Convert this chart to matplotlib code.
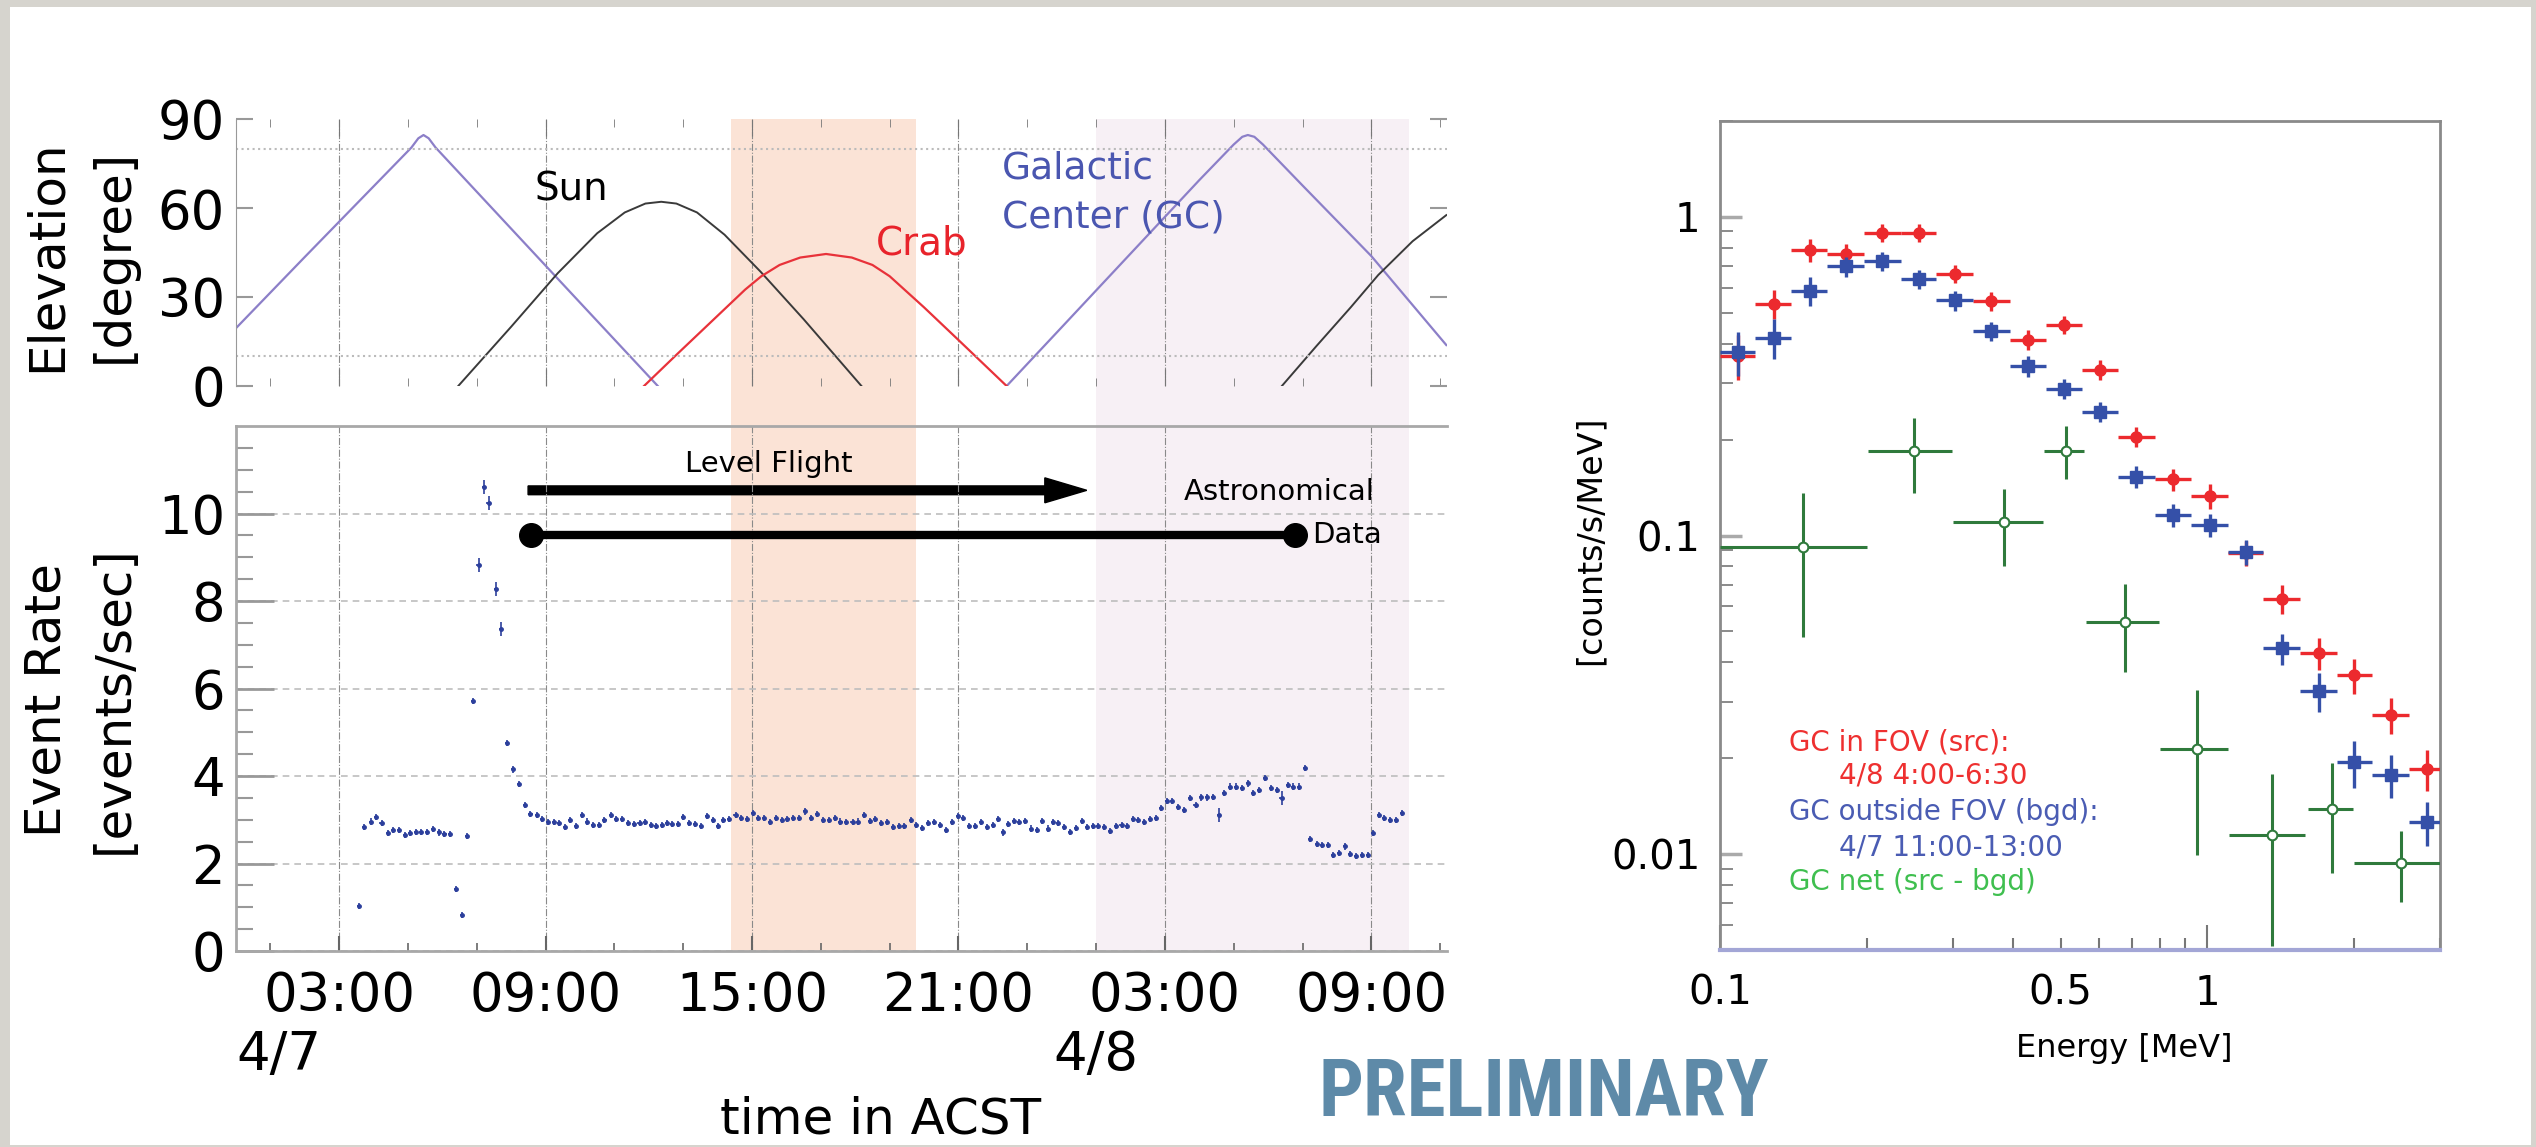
import matplotlib
matplotlib.use("Agg")
import matplotlib.pyplot as plt
from matplotlib import transforms, font_manager
from matplotlib.font_manager import FontProperties
from matplotlib.patches import Rectangle
from matplotlib.ticker import LogLocator, NullFormatter

# ---------------- data ----------------
# elevation arcs, hours since 4/7 00:00 ACST
gc_hours_1 = [0.0, 2.0, 4.0, 5.1, 5.3, 5.45, 5.6, 5.8, 8.0, 10.0, 12.26]
gc_elev_1 = [19.5, 43.5, 67.3, 80.4, 83.5, 84.6, 83.5, 80.4, 53.0, 28.1, 0.0]
gc_hours_2 = [22.40, 24.0, 26.0, 28.0, 29.0, 29.25, 29.41, 29.6, 29.85, 31.0, 33.0, 35.18]
gc_elev_2 = [0.0, 19.8, 44.6, 69.4, 81.4, 84.0, 84.6, 84.0, 81.4, 67.6, 43.8, 13.8]
sun_hours_1 = [6.46, 8.0, 9.35, 10.5, 11.3, 11.9, 12.36, 12.8, 13.4, 14.2, 15.25, 16.5, 18.18]
sun_elev_1 = [0.0, 20.0, 38.0, 51.5, 58.5, 61.5, 62.1, 61.5, 58.5, 51.0, 38.5, 22.5, 0.0]
sun_hours_2 = [30.40, 31.4, 32.4, 33.2, 34.2, 35.18]
sun_elev_2 = [0.0, 13.4, 26.5, 37.4, 48.8, 57.6]
crab_hours = [11.86, 12.8, 13.8, 14.8, 15.27, 15.8, 16.4, 17.15, 17.9, 18.5, 19.0, 20.0, 21.0, 22.40]
crab_elev = [0.0, 10.5, 21.5, 32.5, 37.0, 40.8, 43.3, 44.5, 43.3, 40.8, 37.0, 26.5, 15.5, 0.0]

bands = [(14.39, 19.77), (24.99, 34.09)]

# event rate, 10 min bins
rate_hours = [
    3.58, 3.73, 3.92, 4.07, 4.23, 4.41, 4.56, 4.74, 4.90, 5.05,
    5.22, 5.38, 5.56, 5.73, 5.89, 6.06, 6.23, 6.39, 6.57, 6.71,
    6.90, 7.87, 8.06, 8.23, 8.40, 8.56, 8.74, 8.90, 9.08, 9.24,
    9.39, 9.56, 9.72, 9.88, 10.05, 10.21, 10.38, 10.55, 10.71, 10.89,
    11.05, 11.22, 11.39, 11.56, 11.73, 11.90, 12.06, 12.21,
    12.39, 12.53, 12.68, 12.86, 13.00, 13.17, 13.34, 13.51, 13.68, 13.86,
    14.00, 14.17, 14.34, 14.52, 14.69, 14.85, 15.03, 15.18, 15.35, 15.52,
    15.69, 15.86, 16.03, 16.20, 16.37, 16.55, 16.71, 16.89, 17.05, 17.23,
    17.40, 17.57, 17.74, 17.92, 18.08, 18.26, 18.42, 18.58, 18.75, 18.92,
    19.09, 19.27, 19.43, 19.61, 19.77, 19.94, 20.12, 20.29, 20.46, 20.64,
    20.80, 20.98, 21.14, 21.31, 21.49, 21.65, 21.83, 22.00, 22.15, 22.29,
    22.45, 22.61, 22.76, 22.94, 23.10, 23.27, 23.44, 23.61,
    23.74, 23.90, 24.08, 24.24, 24.42, 24.59, 24.73, 24.90, 25.06, 25.24,
    25.41, 25.57, 25.74, 25.91, 26.07, 26.23, 26.39, 26.56, 26.73, 26.89,
    27.05, 27.21, 27.38, 27.55, 27.72, 27.89, 28.05, 28.22, 28.40, 28.73,
    28.90, 29.06, 29.24, 29.41, 29.57, 29.74, 29.91, 30.08, 30.25, 30.57,
    30.73, 30.91, 31.07, 31.23, 31.41, 31.57, 31.73, 31.89, 32.06, 32.23,
    32.39, 32.56, 32.73, 32.90, 33.05, 33.22, 33.38, 33.55, 33.72, 33.89]
rate_values = [
    1.02, 2.83, 2.96, 3.06, 2.92, 2.70, 2.76, 2.76, 2.66, 2.70,
    2.73, 2.73, 2.73, 2.79, 2.71, 2.67, 2.67, 1.42, 0.83, 2.62,
    5.71, 4.76, 4.15, 3.81, 3.34, 3.14, 3.11, 3.02, 2.94, 2.94,
    2.92, 2.83, 3.00, 2.85, 3.11, 2.96, 2.89, 2.89, 2.99, 3.11,
    3.02, 3.02, 2.92, 2.90, 2.92, 2.95, 2.89, 2.85,
    2.89, 2.92, 2.90, 2.90, 3.06, 2.92, 2.90, 2.85, 3.08, 3.00,
    2.85, 3.00, 3.02, 3.11, 3.04, 3.02, 3.15, 3.04, 3.04, 2.95,
    3.04, 3.00, 3.02, 3.04, 3.04, 3.19, 3.05, 3.13, 3.00, 3.00,
    3.05, 2.96, 2.95, 2.95, 2.96, 3.11, 2.98, 3.02, 2.92, 2.94,
    2.83, 2.85, 2.86, 3.00, 2.89, 2.81, 2.92, 2.95, 2.89, 2.77,
    2.95, 3.08, 3.05, 2.86, 2.86, 2.94, 2.83, 2.89, 3.02, 2.71,
    2.90, 2.98, 2.95, 2.98, 2.80, 2.77, 2.98, 2.80,
    2.95, 2.92, 2.83, 2.73, 2.81, 2.98, 2.83, 2.85, 2.85, 2.83,
    2.75, 2.86, 2.89, 2.85, 3.02, 3.00, 2.95, 3.02, 3.04, 3.27,
    3.43, 3.42, 3.30, 3.23, 3.49, 3.34, 3.51, 3.51, 3.53, 3.61,
    3.76, 3.76, 3.72, 3.83, 3.61, 3.68, 3.95, 3.73, 3.68, 3.80,
    3.76, 3.76, 4.19, 2.57, 2.45, 2.42, 2.42, 2.20, 2.24, 2.39,
    2.22, 2.17, 2.20, 2.20, 2.70, 3.11, 3.04, 3.00, 3.00, 3.15]
# points with larger errors
noisy_hours = [7.05, 7.21, 7.34, 7.55, 7.71, 28.58, 30.39]
noisy_values = [8.82, 10.60, 10.24, 8.27, 7.35, 3.11, 3.49]

time_ticks = [3, 9, 15, 21, 27, 33]
time_labels = ["03:00", "09:00", "15:00", "21:00", "03:00", "09:00"]
time_minor = [1, 5, 7, 11, 13, 17, 19, 23, 25, 29, 31, 35]

# spectra [counts/s/MeV]
energy = [0.109, 0.129, 0.153, 0.181, 0.215, 0.256, 0.303, 0.360, 0.428, 0.508,
          0.603, 0.715, 0.849, 1.01, 1.20, 1.42, 1.69, 2.00, 2.38, 2.82]
energy_edges = [0.100, 0.118, 0.140, 0.166, 0.197, 0.235, 0.278, 0.330, 0.393, 0.466, 0.553,
                0.656, 0.779, 0.925, 1.10, 1.30, 1.55, 1.84, 2.18, 2.59, 3.00]
src_rate = [0.367, 0.533, 0.788, 0.765, 0.892, 0.892, 0.663, 0.544, 0.412, 0.459,
            0.331, 0.204, 0.150, 0.133, 0.0884, 0.0634, 0.0428, 0.0364, 0.0273, 0.0185]
src_err = [0.06, 0.055, 0.065, 0.06, 0.06, 0.06, 0.045, 0.038, 0.03, 0.03,
           0.024, 0.015, 0.012, 0.012, 0.008, 0.0065, 0.005, 0.0045, 0.0035, 0.0027]
bgd_rate = [0.376, 0.417, 0.586, 0.699, 0.726, 0.638, 0.547, 0.439, 0.340, 0.289,
            0.245, 0.153, 0.116, 0.108, 0.0889, 0.0442, 0.0325, 0.0194, 0.0177, 0.0126]
bgd_err = [0.06, 0.06, 0.06, 0.05, 0.05, 0.045, 0.04, 0.03, 0.025, 0.02,
           0.018, 0.012, 0.01, 0.009, 0.008, 0.005, 0.0045, 0.0033, 0.0027, 0.002]
net_energy = [0.148, 0.250, 0.382, 0.512, 0.679, 0.953, 1.355, 1.80, 2.49]
net_e_lo = [0.100, 0.201, 0.301, 0.461, 0.563, 0.800, 1.107, 1.606, 2.00]
net_e_hi = [0.200, 0.299, 0.459, 0.559, 0.797, 1.10, 1.587, 1.99, 3.00]
net_rate = [0.0918, 0.184, 0.110, 0.184, 0.0537, 0.0213, 0.0115, 0.0139, 0.0094]
net_rate_lo = [0.048, 0.136, 0.0801, 0.150, 0.0372, 0.00993, 0.00516, 0.00870, 0.00707]
net_rate_hi = [0.136, 0.233, 0.140, 0.220, 0.0703, 0.0327, 0.0179, 0.0193, 0.0118]

# ---------------- figure ----------------
plt.rcParams['font.family'] = 'DejaVu Sans'
W, H = 2536, 1147
fig = plt.figure(figsize=(W / 100, H / 100), dpi=100, facecolor='#d6d4ce')


def fx(px):
    return px / W


def fy(py):
    return 1 - py / H


# white slide
fig.patches.append(Rectangle((fx(10), fy(1145)), fx(2531) - fx(10), fy(7) - fy(1145),
                             transform=fig.transFigure, facecolor='white',
                             edgecolor='none', zorder=-10))

ax_el = fig.add_axes([fx(236), fy(386), fx(1447) - fx(236), fy(119) - fy(386)])
ax_rt = fig.add_axes([fx(236), fy(951), fx(1447) - fx(236), fy(426) - fy(951)])
ax_sp = fig.add_axes([fx(1720), fy(950), fx(2440) - fx(1720), fy(121) - fy(950)])
for ax in (ax_el, ax_rt, ax_sp):
    ax.set_facecolor('none')

# shaded time windows across both time panels
blend = transforms.blended_transform_factory(ax_rt.transData, fig.transFigure)
for (h0, h1), col in zip(bands, ['#fbe3d6', '#f7f0f5']):
    fig.patches.append(Rectangle((h0, fy(951)), h1 - h0, fy(119) - fy(951), transform=blend,
                                 facecolor=col, edgecolor='none', zorder=-5))

# ---- elevation panel ----
gc_col, sun_col, crab_col = '#8c7fc8', '#3a3a3a', '#e8323a'
ax_el.plot(gc_hours_1, gc_elev_1, color=gc_col, lw=1.6)
ax_el.plot(gc_hours_2, gc_elev_2, color=gc_col, lw=1.6)
ax_el.plot(sun_hours_1, sun_elev_1, color=sun_col, lw=1.4)
ax_el.plot(sun_hours_2, sun_elev_2, color=sun_col, lw=1.4)
ax_el.plot(crab_hours, crab_elev, color=crab_col, lw=1.6)
ax_el.set_xlim(0, 35.2)
ax_el.set_ylim(0, 90)
ax_el.set_yticks([0, 30, 60, 90])
ax_el.set_xticks(time_ticks)
ax_el.set_xticks(time_minor, minor=True)
ax_el.tick_params(axis='y', direction='in', length=12, width=1.5, color='#999999',
                  labelsize=38, pad=8, right=True)
ax_el.tick_params(axis='x', which='both', direction='in', top=True, bottom=True,
                  labelbottom=False, color='#777777')
ax_el.tick_params(axis='x', which='major', length=12)
ax_el.tick_params(axis='x', which='minor', length=6)
ax_el.grid(axis='x', which='major', color='#8a8a8a', ls='-.', lw=0.8)
ax_el.axhline(80, color='#bbbbbb', ls=':', lw=1.5)
ax_el.axhline(10, color='#bbbbbb', ls=':', lw=1.5)
for s in ('top', 'bottom', 'right'):
    ax_el.spines[s].set_visible(False)
ax_el.spines['left'].set_color('#999999')
ax_el.text(9.74, 66.4, 'Sun', color='black', fontsize=28, ha='center', va='center')
ax_el.text(19.92, 48.2, 'Crab', color='#e8232b', fontsize=28, ha='center', va='center')
ax_el.text(22.27, 65.0, 'Galactic\nCenter (GC)', color='#4a56b0', fontsize=27,
           ha='left', va='center', linespacing=1.45)

# ---- event rate panel ----
rate_col = '#2c3f9c'
ax_rt.errorbar(rate_hours, rate_values, yerr=0.07, xerr=0.06, fmt='o', ms=2.5,
               color=rate_col, elinewidth=1.2, capsize=0)
ax_rt.errorbar(noisy_hours, noisy_values, yerr=0.16, xerr=0.06, fmt='o', ms=2.5,
               color=rate_col, elinewidth=1.2, capsize=0)
ax_rt.set_xlim(0, 35.2)
ax_rt.set_ylim(0, 12)
ax_rt.set_yticks([0, 2, 4, 6, 8, 10])
ax_rt.set_yticks([0.5, 1, 1.5, 2.5, 3, 3.5, 4.5, 5, 5.5, 6.5, 7, 7.5, 8.5, 9, 9.5,
                  10.5, 11, 11.5], minor=True)
ax_rt.set_xticks(time_ticks, labels=time_labels)
ax_rt.set_xticks(time_minor, minor=True)
ax_rt.tick_params(axis='y', which='both', direction='in', color='#999999', labelsize=38, pad=8)
ax_rt.tick_params(axis='y', which='major', length=27, width=2)
ax_rt.tick_params(axis='y', which='minor', length=12, width=1.5)
ax_rt.tick_params(axis='x', which='both', direction='in', color='#666666', labelsize=38, pad=14)
ax_rt.tick_params(axis='x', which='major', length=11, width=1.5)
ax_rt.tick_params(axis='x', which='minor', length=6, width=1.2)
ax_rt.grid(axis='y', which='major', color='#bdbdbd', ls=(0, (4, 3)), lw=1.2)
ax_rt.grid(axis='x', which='major', color='#8a8a8a', ls='-.', lw=0.8)
ax_rt.spines['right'].set_visible(False)
for s in ('top', 'bottom', 'left'):
    ax_rt.spines[s].set_color('#a8a8a8')
    ax_rt.spines[s].set_linewidth(2)

# level flight arrow and astronomical data interval
ax_rt.arrow(8.49, 10.53, 24.73 - 8.49, 0, width=0.2, head_width=0.57, head_length=1.22,
            length_includes_head=True, color='black')
ax_rt.plot([8.58, 30.77], [9.5, 9.5], color='black', lw=6, marker='o', ms=17)
ax_rt.text(15.48, 11.14, 'Level Flight', fontsize=21, ha='center', va='center')
ax_rt.text(30.33, 10.5, 'Astronomical', fontsize=21, ha='center', va='center')
ax_rt.text(31.29, 9.5, 'Data', fontsize=21, ha='left', va='center')

ax_rt.text(0.0, fy(1055), '4/7', transform=blend, fontsize=38, ha='left', va='center')
ax_rt.text(23.75, fy(1055), '4/8', transform=blend, fontsize=38, ha='left', va='center')
fig.text(fx(881), fy(1120), 'time in ACST', fontsize=36, ha='center', va='center')
fig.text(fx(80), fy(256), 'Elevation\n[degree]', rotation=90, fontsize=36,
         ha='center', va='center', linespacing=1.5)
fig.text(fx(80), fy(700), 'Event Rate\n[events/sec]', rotation=90, fontsize=36,
         ha='center', va='center', linespacing=1.5)

# ---- spectrum panel ----
src_col, bgd_col, net_col = '#ec2a2e', '#3550a8', '#2f7a3c'
e_lo = [e - lo for e, lo in zip(energy, energy_edges[:-1])]
e_hi = [hi - e for e, hi in zip(energy, energy_edges[1:])]
ax_sp.errorbar(energy, src_rate, xerr=[e_lo, e_hi], yerr=src_err, fmt='o', ms=8,
               color=src_col, elinewidth=2.4, capsize=0, zorder=3)
ax_sp.errorbar(energy, bgd_rate, xerr=[e_lo, e_hi], yerr=bgd_err, fmt='s', ms=8,
               color=bgd_col, elinewidth=2.4, capsize=0, zorder=4)
n_xlo = [e - lo for e, lo in zip(net_energy, net_e_lo)]
n_xhi = [hi - e for e, hi in zip(net_energy, net_e_hi)]
n_ylo = [r - lo for r, lo in zip(net_rate, net_rate_lo)]
n_yhi = [hi - r for r, hi in zip(net_rate, net_rate_hi)]
ax_sp.errorbar(net_energy, net_rate, xerr=[n_xlo, n_xhi], yerr=[n_ylo, n_yhi], fmt='o',
               ms=7, mfc='white', mec=net_col, mew=1.5, color=net_col, elinewidth=2.2,
               capsize=0, zorder=5)
ax_sp.set_xscale('log')
ax_sp.set_yscale('log')
ax_sp.set_xlim(0.1, 3)
ax_sp.set_ylim(0.005, 2)
ax_sp.set_xticks([0.1, 1], labels=['0.1', '1'])
minor_x = [0.2, 0.3, 0.4, 0.5, 0.6, 0.7, 0.8, 0.9, 2, 3]
ax_sp.set_xticks(minor_x, labels=['0.5' if v == 0.5 else '' for v in minor_x], minor=True)
ax_sp.set_yticks([0.01, 0.1, 1], labels=['0.01', '0.1', '1'])
ax_sp.yaxis.set_minor_locator(LogLocator(base=10, subs=range(2, 10)))
ax_sp.yaxis.set_minor_formatter(NullFormatter())
ax_sp.tick_params(axis='both', which='both', direction='in', color='#777777',
                  labelsize=29, top=False, right=False)
ax_sp.tick_params(axis='x', which='both', pad=17)
ax_sp.tick_params(axis='y', which='both', pad=14)
ax_sp.tick_params(axis='x', which='major', length=18, width=1.5)
ax_sp.tick_params(axis='x', which='minor', length=9, width=1.5)
ax_sp.tick_params(axis='y', which='major', length=16, width=2.5, color='#aaaaaa')
ax_sp.tick_params(axis='y', which='minor', length=9, width=1.2)
for s in ('top', 'left', 'right'):
    ax_sp.spines[s].set_color('#8a8a8a')
    ax_sp.spines[s].set_linewidth(2)
ax_sp.spines['bottom'].set_color('#a3a6d6')
ax_sp.spines['bottom'].set_linewidth(3)

fig.text(fx(1590), fy(540), '[counts/s/MeV]', rotation=90, fontsize=24, ha='center', va='center')
fig.text(fx(2124), fy(1048), 'Energy [MeV]', fontsize=23, ha='center', va='center')
fig.text(fx(1789), fy(743), 'GC in FOV (src):', color='#ee3030', fontsize=20, va='center')
fig.text(fx(1839), fy(776), '4/8 4:00-6:30', color='#ee3030', fontsize=20, va='center')
fig.text(fx(1789), fy(812), 'GC outside FOV (bgd):', color='#4a5cb3', fontsize=20, va='center')
fig.text(fx(1789), fy(882), 'GC net (src - bgd)', color='#3fbf4f', fontsize=20, va='center')
fig.text(fx(1839), fy(847), '4/7 11:00-13:00', color='#4a5cb3', fontsize=20, va='center')

# condensed bold face for the stamp if one is installed
names = {f.name for f in font_manager.fontManager.ttflist}
cond_path = font_manager.findfont(FontProperties(family='DejaVu Sans', weight='bold',
                                                 stretch='condensed'))
pre_stretch = 'normal'
if 'Liberation Sans Narrow' in names:
    pre_family, pre_size = 'Liberation Sans Narrow', 59
elif 'Roboto Condensed' in names:
    pre_family, pre_size = 'Roboto Condensed', 57
elif 'Condensed' in cond_path:
    pre_family, pre_size, pre_stretch = 'DejaVu Sans', 48, 'condensed'
else:
    pre_family, pre_size = 'DejaVu Sans', 43
fig.text(fx(1544), fy(1095), 'PRELIMINARY', color='#5e8aa8', fontsize=pre_size,
         family=pre_family, weight='bold', stretch=pre_stretch, ha='center', va='center')

fig.savefig('out.png', dpi=100, facecolor=fig.get_facecolor())
